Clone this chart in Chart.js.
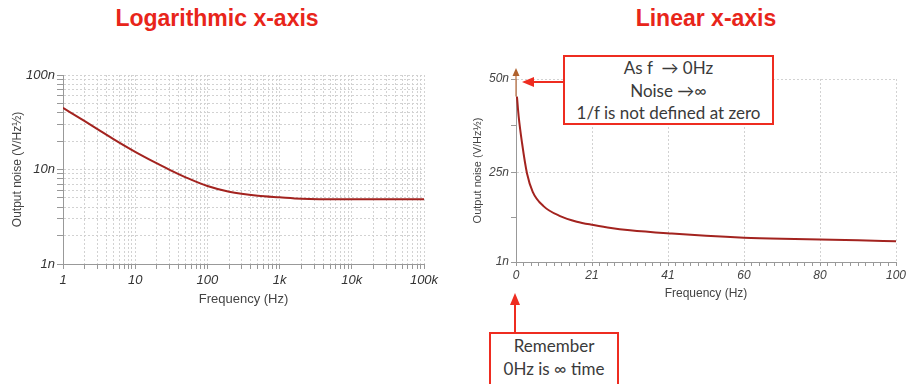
<!DOCTYPE html>
<html>
<head>
<meta charset="utf-8">
<script src="https://cdn.jsdelivr.net/npm/chart.js@4.4.0/dist/chart.umd.min.js"></script>
<style>
body{margin:0;width:910px;height:384px;background:#fff;position:relative;overflow:hidden;font-family:'Liberation Sans',Arial,sans-serif}
.title{position:absolute;top:7px;width:300px;font-weight:bold;font-size:23px;line-height:23px;color:#e8251a;text-align:center}
canvas{position:absolute}
.note{position:absolute;box-sizing:border-box;border:2px solid #ee2c20;background:#fff;font-family:Lato,'Open Sans',sans-serif;font-size:17px;color:#3a3a3a;text-align:center}
</style>
</head>
<body>
<div class="title" style="left:67px">Logarithmic x-axis</div>
<div class="title" style="left:556px">Linear x-axis</div>
<canvas id="logChart" width="450" height="270" style="left:0;top:50px"></canvas>
<canvas id="linChart" width="450" height="334" style="left:460px;top:50px"></canvas>
<div class="note" style="left:563px;top:55px;width:211px;height:70px;line-height:22.5px">As f &nbsp;→ 0Hz<br>Noise →∞<br>1/f is not defined at zero</div>
<div class="note" style="left:489px;top:332px;width:130px;height:54px;line-height:23px">Remember<br>0Hz is ∞ time</div>
<script>
// log chart: output noise in nV/rtHz vs frequency
const logFreq  = [1, 2, 3, 5, 10, 20, 30, 50, 100, 200, 500, 1000, 2000, 10000, 100000];
const logNoise = [44.9, 32.5, 26.8, 21, 15.4, 11.6, 9.9, 8.26, 6.68, 5.82, 5.28, 5.08, 4.91, 4.84, 4.83];
const logXTickValues = [1, 10, 100, 1000, 10000, 100000];
const logXTickLabels = ['1', '10', '100', '1k', '10k', '100k'];
const logYTickValues = [1, 10, 100];
const logYTickLabels = ['1n', '10n', '100n'];

// linear chart
const linFreq  = [0.25, 0.7, 1.6, 2.9, 4.4, 7.3, 11.6, 16, 20.4, 25, 30, 41, 50, 60, 70, 80, 90, 100];
const linNoise = [45.3, 40, 32.8, 24.7, 19.8, 15.9, 13.3, 11.8, 10.9, 10.1, 9.5, 8.6, 8.0, 7.5, 7.2, 7.0, 6.8, 6.55];
const linXTickValues = [0, 20, 40, 60, 80, 100];
const linXTickLabels = ['0', '21', '41', '60', '80', '100'];
const linYTickValues = [1, 25, 50];
const linYTickLabels = ['1n', '25n', '50n'];

const curveColor = '#a3231f';
const gridColor = '#d2d2d2';
const axisColor = '#999';

function labelAt(vals, labels, v) {
    for (let i = 0; i < vals.length; i++) {
        if (Math.abs(vals[i] - v) < 1e-6 * Math.max(1, vals[i])) return labels[i];
    }
    return '';
}

function logTicks(min, max) {
    let out = [];
    for (let d = min; d <= max; d *= 10) {
        for (let m = 1; m <= 9; m++) {
            if (m * d <= max) out.push({value: m * d});
        }
    }
    return out;
}

function toPoints(xs, ys) {
    return xs.map((x, i) => ({x: x, y: ys[i]}));
}

new Chart(document.getElementById('logChart'), {
    type: 'line',
    data: {
        datasets: [{
            data: toPoints(logFreq, logNoise),
            borderColor: curveColor,
            borderWidth: 2,
            pointRadius: 0,
            cubicInterpolationMode: 'monotone'
        }]
    },
    options: {
        responsive: false,
        animation: false,
        devicePixelRatio: 1,
        layout: {padding: {top: 25, right: 26, left: 0, bottom: 0}},
        plugins: {legend: {display: false}, tooltip: {enabled: false}},
        scales: {
            x: {
                type: 'logarithmic', min: 1, max: 100000,
                afterBuildTicks: s => { s.ticks = logTicks(1, 100000); },
                afterFit: s => { s.height = 56; },
                ticks: {
                    autoSkip: false, maxRotation: 0, padding: 4, color: '#333',
                    font: {size: 13, style: 'italic'},
                    callback: v => labelAt(logXTickValues, logXTickLabels, v)
                },
                grid: {color: gridColor, tickColor: axisColor, tickLength: 5},
                border: {color: axisColor, dash: [2, 2]},
                title: {display: true, text: 'Frequency (Hz)', color: '#444', font: {size: 13}, padding: {top: 0, bottom: 13}}
            },
            y: {
                type: 'logarithmic', min: 1, max: 100,
                afterBuildTicks: s => { s.ticks = logTicks(1, 100); },
                afterFit: s => { s.width = 63; },
                ticks: {
                    autoSkip: false, padding: 2, color: '#333',
                    font: {size: 13, style: 'italic'},
                    callback: v => labelAt(logYTickValues, logYTickLabels, v)
                },
                grid: {color: gridColor, tickColor: axisColor, tickLength: 6},
                border: {color: axisColor, dash: [2, 2]},
                title: {display: true, text: 'Output noise (V/Hz½)', color: '#444', font: {size: 12}, padding: {top: 10, bottom: 0}}
            }
        }
    }
});

// arrows for the annotations on the linear chart
const linArrows = {
    id: 'linArrows',
    afterDraw(chart) {
        const {ctx, chartArea} = chart;
        const xs = chart.scales.x, ys = chart.scales.y;
        const x0 = xs.getPixelForValue(0);
        ctx.save();
        // y axis arrow (brown)
        ctx.strokeStyle = '#c98a63';
        ctx.lineWidth = 1.5;
        ctx.beginPath();
        ctx.moveTo(x0, chartArea.top - 6);
        ctx.lineTo(x0, ys.getPixelForValue(linNoise[0]));
        ctx.stroke();
        ctx.fillStyle = '#b0622e';
        ctx.beginPath();
        ctx.moveTo(x0, chartArea.top - 11);
        ctx.lineTo(x0 - 3.5, chartArea.top - 3);
        ctx.lineTo(x0 + 3.5, chartArea.top - 3);
        ctx.closePath();
        ctx.fill();

        // red arrow to 50n
        ctx.strokeStyle = '#ee2c20';
        ctx.fillStyle = '#ee2c20';
        ctx.lineWidth = 2;
        const ya = ys.getPixelForValue(50) + 3;
        ctx.beginPath();
        ctx.moveTo(x0 + 48, ya);
        ctx.lineTo(x0 + 15, ya);
        ctx.stroke();
        ctx.beginPath();
        ctx.moveTo(x0 + 6, ya);
        ctx.lineTo(x0 + 18, ya - 5);
        ctx.lineTo(x0 + 18, ya + 5);
        ctx.closePath();
        ctx.fill();

        // red arrow up to 0 Hz
        const xb = x0 - 1;
        const tip = chartArea.bottom + 31;
        ctx.beginPath();
        ctx.moveTo(xb, tip + 40);
        ctx.lineTo(xb, tip + 9);
        ctx.stroke();
        ctx.beginPath();
        ctx.moveTo(xb, tip);
        ctx.lineTo(xb - 5, tip + 12);
        ctx.lineTo(xb + 5, tip + 12);
        ctx.closePath();
        ctx.fill();
        ctx.restore();
    }
};

new Chart(document.getElementById('linChart'), {
    type: 'line',
    data: {
        datasets: [{
            data: toPoints(linFreq, linNoise),
            borderColor: curveColor,
            borderWidth: 2,
            pointRadius: 0,
            cubicInterpolationMode: 'monotone'
        }]
    },
    options: {
        responsive: false,
        animation: false,
        devicePixelRatio: 1,
        layout: {padding: {top: 29, right: 14, left: 0, bottom: 77}},
        plugins: {legend: {display: false}, tooltip: {enabled: false}},
        scales: {
            x: {
                type: 'linear', min: 0, max: 100,
                afterBuildTicks: s => {
                    let t = [];
                    for (let v = 0; v <= 100; v += 2) t.push({value: v});
                    s.ticks = t;
                },
                afterFit: s => { s.height = 45; },
                ticks: {
                    autoSkip: false, maxRotation: 0, padding: 2, color: '#444',
                    font: {size: 12, style: 'italic'},
                    callback: v => labelAt(linXTickValues, linXTickLabels, v)
                },
                grid: {
                    color: c => linXTickValues.includes(c.tick && c.tick.value) ? gridColor : 'rgba(0,0,0,0)',
                    tickColor: axisColor, tickLength: 4
                },
                border: {color: axisColor, dash: [2, 2]},
                title: {display: true, text: 'Frequency (Hz)', color: '#444', font: {size: 12}, padding: {top: 0, bottom: 6}}
            },
            y: {
                type: 'linear', min: 1, max: 50,
                afterBuildTicks: s => { s.ticks = [1, 13, 25, 37.5, 50].map(v => ({value: v})); },
                afterFit: s => { s.width = 56; },
                ticks: {
                    autoSkip: false, padding: 2, color: '#444',
                    font: {size: 12, style: 'italic'},
                    callback: v => labelAt(linYTickValues, linYTickLabels, v)
                },
                grid: {
                    color: c => linYTickValues.includes(c.tick && c.tick.value) ? gridColor : 'rgba(0,0,0,0)',
                    tickColor: axisColor, tickLength: 5
                },
                border: {color: axisColor, dash: [2, 2]},
                title: {display: true, text: 'Output noise (V/Hz½)', color: '#444', font: {size: 11}, padding: {top: 11, bottom: 0}}
            }
        }
    },
    plugins: [linArrows]
});
</script>
</body>
</html>
